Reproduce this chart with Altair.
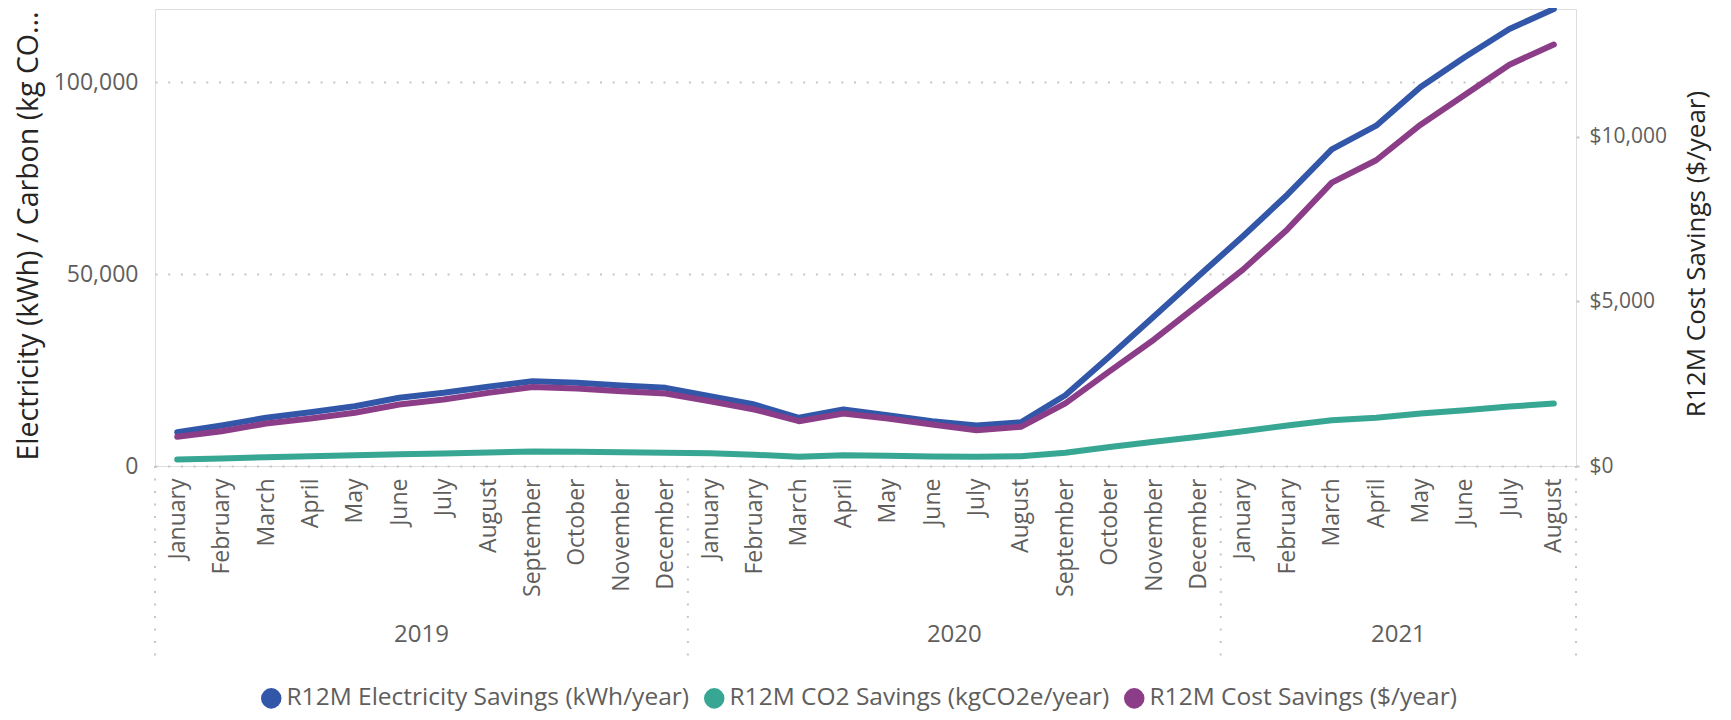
import altair as alt
import pandas as pd

# ---------------- data ----------------
month_names = ["January", "February", "March", "April", "May", "June",
               "July", "August", "September", "October", "November", "December"]
year_list = ["2019", "2020", "2021"]
months_per_year = [12, 12, 8]

elec_kwh = [8800, 10550, 12560, 14020, 15580, 17770, 19070, 20630, 22100, 21680, 20970, 20370,
            18190, 16020, 12560, 14720, 13240, 11680, 10550, 11410, 18450, 28600, 39000, 49500,
            59900, 70700, 82500, 88700, 98800, 106600, 113900, 119100]
co2_kg = [1690, 1950, 2300, 2560, 2820, 3080, 3260, 3520, 3780, 3700, 3600, 3480,
          3300, 2950, 2390, 2800, 2700, 2480, 2390, 2560, 3440, 4950, 6300, 7600,
          9070, 10550, 11930, 12560, 13680, 14540, 15500, 16280]
cost_usd = [886, 1056, 1290, 1442, 1614, 1866, 2018, 2220, 2400, 2350, 2270, 2200,
            1967, 1715, 1360, 1593, 1442, 1260, 1087, 1190, 1900, 2880, 3840, 4900,
            5960, 7180, 8600, 9280, 10360, 11270, 12180, 12790]

series_names = ["R12M Electricity Savings (kWh/year)",
                "R12M CO2 Savings (kgCO2e/year)",
                "R12M Cost Savings ($/year)"]
series_colors = ["#3257A8", "#37A794", "#8B3D88"]

left_values = [0, 50000, 100000]
right_values = [0, 5000, 10000]

# ---------------- tables ----------------
rows = []
i = 0
for y, n in zip(year_list, months_per_year):
    for m in range(n):
        rows.append({"idx": i, "month": month_names[m], "year": y,
                     "elec": elec_kwh[i], "co2": co2_kg[i], "cost": cost_usd[i]})
        i += 1
df = pd.DataFrame(rows)
n_months = len(df)

left_long = pd.concat([
    pd.DataFrame({"idx": df["idx"], "value": df["elec"], "series": series_names[0]}),
    pd.DataFrame({"idx": df["idx"], "value": df["co2"], "series": series_names[1]}),
])
cost_df = pd.DataFrame({"idx": df["idx"], "value": df["cost"], "series": series_names[2]})
legend_df = pd.DataFrame({"idx": df["idx"], "value": df["elec"], "series": series_names[0]})

# year group centres and separators
year_rows = []
sep_rows = [{"idx": -0.5}]
start = 0
for y, n in zip(year_list, months_per_year):
    year_rows.append({"idx": start + (n - 1) / 2, "year": y})
    start += n
    sep_rows.append({"idx": start - 0.5})
year_df = pd.DataFrame(year_rows)
sep_df = pd.DataFrame(sep_rows)

# ---------------- styling ----------------
FONT = "Open Sans"
LABEL_GREY = "#605E5C"
TITLE_DARK = "#252423"
GRID = "#C8C6C4"
W, H = 1421, 457

label_expr = "[" + ",".join("'%s'" % m for m in month_names) + "][datum.value % 12]"

x_enc = alt.X(
    "idx:Q",
    title=None,
    scale=alt.Scale(domain=[-0.5, n_months - 0.5], nice=False, zero=False),
    axis=alt.Axis(values=list(range(n_months)), labelExpr=label_expr, labelAngle=270,
                  labelAlign="right", labelBaseline="middle", labelPadding=12,
                  labelFont=FONT, labelFontSize=23, labelColor=LABEL_GREY,
                  labelOverlap=False, labelFlush=False, labelBound=False,
                  ticks=False, domain=False, grid=False),
)

left_scale = alt.Scale(domain=[0, 119100], nice=False, zero=True)
right_scale = alt.Scale(domain=[0, 13870], nice=False, zero=True)

left_axis = alt.Axis(
    values=left_values, format=",.0f", orient="left",
    title="Electricity (kWh) / Carbon (kg CO...", titleFont=FONT, titleFontSize=28.5,
    titleFontWeight="normal", titleColor=TITLE_DARK, titleAngle=270,
    titleAlign="center", titleBaseline="middle", titleX=-127, titleY=H / 2 - 2,
    titleLimit=1000,
    labelFont=FONT, labelFontSize=23, labelColor=LABEL_GREY, labelPadding=17,
    ticks=False, domain=False,
    grid=True, gridColor=GRID, gridDash=[2, 10.7], gridWidth=2,
)
right_axis = alt.Axis(
    values=right_values, format="$,.0f", orient="right",
    title="R12M Cost Savings ($/year)", titleFont=FONT, titleFontSize=26,
    titleFontWeight="normal", titleColor=TITLE_DARK, titleAngle=270,
    titleAlign="center", titleBaseline="middle", titleX=120, titleY=H / 2 + 16,
    titleLimit=1000,
    labelFont=FONT, labelFontSize=21, labelColor=LABEL_GREY, labelPadding=10,
    ticks=True, tickSize=3, tickWidth=2, tickColor=GRID, domain=False, grid=False,
)

stroke_scale = alt.Scale(domain=series_names, range=series_colors)

seps = alt.Chart(sep_df).mark_rule(color=GRID, strokeWidth=2, strokeDash=[2, 10.5]).encode(
    x=x_enc, y=alt.value(H), y2=alt.value(648)
)
years = alt.Chart(year_df).mark_text(font=FONT, fontSize=24, color=LABEL_GREY,
                                      align="center", baseline="middle").encode(
    x=x_enc, y=alt.value(626), text="year:N"
)
legend_pts = alt.Chart(legend_df).mark_circle(size=4, opacity=1).encode(
    x=x_enc,
    y=alt.Y("value:Q", scale=left_scale, axis=left_axis),
    fill=alt.Fill("series:N", scale=alt.Scale(domain=series_names, range=series_colors),
                  legend=alt.Legend(title=None, orient="none", direction="horizontal",
                                    legendX=104, legendY=677,
                                    symbolType="circle", symbolSize=420, symbolStrokeWidth=0,
                                    labelFont=FONT, labelFontSize=24.5, labelColor=LABEL_GREY,
                                    labelOffset=3, columnPadding=12, labelLimit=1000)),
)
left_lines = alt.Chart(left_long).mark_line(strokeWidth=6, strokeCap="round",
                                            strokeJoin="round").encode(
    x=x_enc,
    y=alt.Y("value:Q", scale=left_scale, axis=left_axis),
    stroke=alt.Stroke("series:N", scale=stroke_scale, legend=None),
)
cost_line = alt.Chart(cost_df).mark_line(strokeWidth=6, strokeCap="round",
                                         strokeJoin="round").encode(
    x=x_enc,
    y=alt.Y("value:Q", scale=right_scale, axis=right_axis),
    stroke=alt.Stroke("series:N", scale=stroke_scale, legend=None),
)

left_group = alt.layer(seps, years, legend_pts, left_lines)
chart = alt.layer(left_group, cost_line).resolve_scale(y="independent").properties(
    width=W, height=H,
    autosize=alt.AutoSizeParams(type="none"),
    padding={"left": 147, "right": 147, "top": 1, "bottom": 246},
).configure_view(stroke=None).configure(background="white")

chart.save("out.html", embed_options={"renderer": "svg", "actions": False})
